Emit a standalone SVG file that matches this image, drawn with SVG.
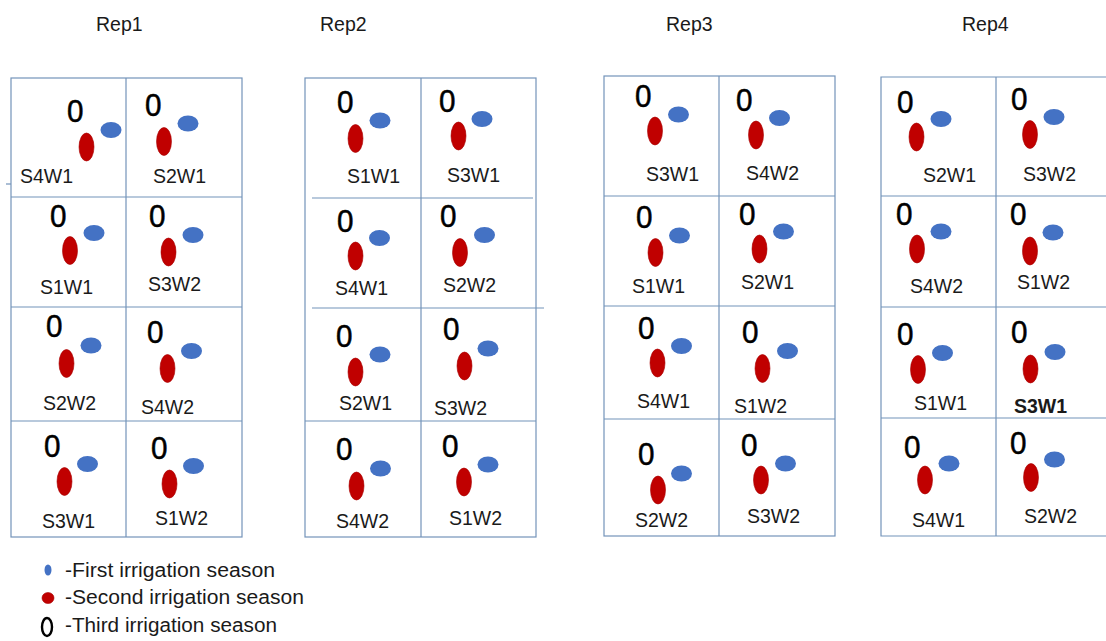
<svg xmlns="http://www.w3.org/2000/svg" width="1106" height="641" viewBox="0 0 1106 641">
<style>
.grid{stroke:#7393b9;stroke-width:1.2;fill:none}
.t{font-family:"Liberation Sans",Arial,sans-serif;font-size:19.5px;fill:#1a1a1a}
.z{font-family:"Liberation Sans",Arial,sans-serif;font-size:32px;fill:#000;stroke:#000;stroke-width:0.5}
.b{fill:#4472c4}
.r{fill:#c00000;stroke:#a80000;stroke-width:0.6}
.lg{font-family:"Liberation Sans",Arial,sans-serif;font-size:20px;fill:#1a1a1a}
</style>
<rect width="1106" height="641" fill="#fff"/>
<g id="titles">
<text class="t" x="96" y="31">Rep1</text>
<text class="t" x="320" y="31">Rep2</text>
<text class="t" x="666" y="31">Rep3</text>
<text class="t" x="962" y="31">Rep4</text>
</g>
<g id="connectors">
<g id="grid-rep1" class="grid">
<rect x="11" y="78" width="231" height="459"/>
<line x1="126" y1="78" x2="126" y2="537"/>
<line x1="11" y1="197" x2="242" y2="197"/>
<line x1="11" y1="307" x2="242" y2="307"/>
<line x1="11" y1="421" x2="242" y2="421"/>
<line x1="6" y1="184" x2="11" y2="184"/>
</g>
<g id="grid-rep2" class="grid">
<rect x="305" y="78" width="231" height="459"/>
<line x1="421" y1="78" x2="421" y2="537"/>
<line x1="312" y1="198" x2="533" y2="198"/>
<line x1="312" y1="308" x2="544" y2="308"/>
<line x1="305" y1="421" x2="536" y2="421"/>
</g>
<g id="grid-rep3" class="grid">
<rect x="604" y="76" width="231" height="460"/>
<line x1="719" y1="76" x2="719" y2="536"/>
<line x1="604" y1="196" x2="835" y2="196"/>
<line x1="604" y1="306" x2="835" y2="306"/>
<line x1="604" y1="419" x2="835" y2="419"/>
</g>
<g id="grid-rep4" class="grid">
<polyline points="1110,77 881,77 881,536 1110,536"/>
<line x1="996" y1="77" x2="996" y2="536"/>
<line x1="881" y1="196" x2="1110" y2="196"/>
<line x1="881" y1="307" x2="1110" y2="307"/>
<line x1="881" y1="418" x2="1110" y2="418"/>
</g>
</g>

<!-- Rep1 -->
<g id="r1-s4w1"><text class="z" x="67" y="122" textLength="16.5" lengthAdjust="spacingAndGlyphs">0</text><ellipse class="r" cx="86.5" cy="147" rx="7.5" ry="14"/><ellipse class="b" cx="111" cy="130" rx="10.5" ry="8"/><text class="t" x="20" y="183">S4W1</text></g>
<g id="r1-s2w1"><text class="z" x="145" y="116" textLength="16.5" lengthAdjust="spacingAndGlyphs">0</text><ellipse class="r" cx="164" cy="141.5" rx="7.5" ry="14"/><ellipse class="b" cx="188" cy="123.5" rx="10.5" ry="8"/><text class="t" x="153" y="183">S2W1</text></g>
<g id="r1-s1w1"><text class="z" x="50" y="227" textLength="16.5" lengthAdjust="spacingAndGlyphs">0</text><ellipse class="r" cx="70" cy="250.5" rx="7.5" ry="14"/><ellipse class="b" cx="94" cy="233" rx="10.5" ry="8"/><text class="t" x="40" y="294">S1W1</text></g>
<g id="r1-s3w2"><text class="z" x="149" y="227" textLength="16.5" lengthAdjust="spacingAndGlyphs">0</text><ellipse class="r" cx="168.5" cy="252" rx="7.5" ry="14"/><ellipse class="b" cx="193" cy="235" rx="10.5" ry="8"/><text class="t" x="148" y="291">S3W2</text></g>
<g id="r1-s2w2"><text class="z" x="46" y="337" textLength="16.5" lengthAdjust="spacingAndGlyphs">0</text><ellipse class="r" cx="66.5" cy="363.5" rx="7.5" ry="14"/><ellipse class="b" cx="91" cy="345.5" rx="10.5" ry="8"/><text class="t" x="43" y="410">S2W2</text></g>
<g id="r1-s4w2"><text class="z" x="147" y="343" textLength="16.5" lengthAdjust="spacingAndGlyphs">0</text><ellipse class="r" cx="167.5" cy="368.5" rx="7.5" ry="14"/><ellipse class="b" cx="191.5" cy="351" rx="10.5" ry="8"/><text class="t" x="141" y="414">S4W2</text></g>
<g id="r1-s3w1"><text class="z" x="44" y="457" textLength="16.5" lengthAdjust="spacingAndGlyphs">0</text><ellipse class="r" cx="64.5" cy="481.5" rx="7.5" ry="14"/><ellipse class="b" cx="87.5" cy="464" rx="10.5" ry="8"/><text class="t" x="42" y="528">S3W1</text></g>
<g id="r1-s1w2"><text class="z" x="151" y="459" textLength="16.5" lengthAdjust="spacingAndGlyphs">0</text><ellipse class="r" cx="169.5" cy="484" rx="7.5" ry="14"/><ellipse class="b" cx="193.5" cy="466" rx="10.5" ry="8"/><text class="t" x="155" y="525">S1W2</text></g>

<!-- Rep2 -->
<g id="r2-s1w1"><text class="z" x="337" y="113" textLength="16.5" lengthAdjust="spacingAndGlyphs">0</text><ellipse class="r" cx="355.5" cy="138.5" rx="7.5" ry="14"/><ellipse class="b" cx="380" cy="120.5" rx="10.5" ry="8"/><text class="t" x="347" y="183">S1W1</text></g>
<g id="r2-s3w1"><text class="z" x="439" y="112" textLength="16.5" lengthAdjust="spacingAndGlyphs">0</text><ellipse class="r" cx="458.5" cy="136" rx="7.5" ry="14"/><ellipse class="b" cx="482" cy="119" rx="10.5" ry="8"/><text class="t" x="447" y="182">S3W1</text></g>
<g id="r2-s4w1"><text class="z" x="337" y="232" textLength="16.5" lengthAdjust="spacingAndGlyphs">0</text><ellipse class="r" cx="355.5" cy="256" rx="7.5" ry="14"/><ellipse class="b" cx="379.5" cy="238" rx="10.5" ry="8"/><text class="t" x="335" y="295">S4W1</text></g>
<g id="r2-s2w2"><text class="z" x="440" y="227" textLength="16.5" lengthAdjust="spacingAndGlyphs">0</text><ellipse class="r" cx="460" cy="252.5" rx="7.5" ry="14"/><ellipse class="b" cx="484.5" cy="235" rx="10.5" ry="8"/><text class="t" x="443" y="292">S2W2</text></g>
<g id="r2-s2w1"><text class="z" x="336" y="347" textLength="16.5" lengthAdjust="spacingAndGlyphs">0</text><ellipse class="r" cx="355.5" cy="372" rx="7.5" ry="14"/><ellipse class="b" cx="380" cy="354.5" rx="10.5" ry="8"/><text class="t" x="339" y="410">S2W1</text></g>
<g id="r2-s3w2"><text class="z" x="443" y="340" textLength="16.5" lengthAdjust="spacingAndGlyphs">0</text><ellipse class="r" cx="464.5" cy="366" rx="7.5" ry="14"/><ellipse class="b" cx="488" cy="348.5" rx="10.5" ry="8"/><text class="t" x="434" y="415">S3W2</text></g>
<g id="r2-s4w2"><text class="z" x="336" y="460" textLength="16.5" lengthAdjust="spacingAndGlyphs">0</text><ellipse class="r" cx="356.5" cy="486" rx="7.5" ry="14"/><ellipse class="b" cx="380.5" cy="468.5" rx="10.5" ry="8"/><text class="t" x="336" y="528">S4W2</text></g>
<g id="r2-s1w2"><text class="z" x="442" y="457" textLength="16.5" lengthAdjust="spacingAndGlyphs">0</text><ellipse class="r" cx="464" cy="482" rx="7.5" ry="14"/><ellipse class="b" cx="488" cy="464.5" rx="10.5" ry="8"/><text class="t" x="449" y="525">S1W2</text></g>

<!-- Rep3 -->
<g id="r3-s3w1"><text class="z" x="635" y="107" textLength="16.5" lengthAdjust="spacingAndGlyphs">0</text><ellipse class="r" cx="655" cy="131" rx="7.5" ry="14"/><ellipse class="b" cx="678.5" cy="114.5" rx="10.5" ry="8"/><text class="t" x="646" y="181">S3W1</text></g>
<g id="r3-s4w2"><text class="z" x="736" y="111" textLength="16.5" lengthAdjust="spacingAndGlyphs">0</text><ellipse class="r" cx="756" cy="135" rx="7.5" ry="14"/><ellipse class="b" cx="779.5" cy="118" rx="10.5" ry="8"/><text class="t" x="746" y="180">S4W2</text></g>
<g id="r3-s1w1"><text class="z" x="636" y="228" textLength="16.5" lengthAdjust="spacingAndGlyphs">0</text><ellipse class="r" cx="655.5" cy="252.5" rx="7.5" ry="14"/><ellipse class="b" cx="679.5" cy="235.5" rx="10.5" ry="8"/><text class="t" x="632" y="293">S1W1</text></g>
<g id="r3-s2w1"><text class="z" x="739" y="225" textLength="16.5" lengthAdjust="spacingAndGlyphs">0</text><ellipse class="r" cx="759.5" cy="249" rx="7.5" ry="14"/><ellipse class="b" cx="783.5" cy="231.5" rx="10.5" ry="8"/><text class="t" x="741" y="289">S2W1</text></g>
<g id="r3-s4w1"><text class="z" x="638" y="339" textLength="16.5" lengthAdjust="spacingAndGlyphs">0</text><ellipse class="r" cx="657.5" cy="363" rx="7.5" ry="14"/><ellipse class="b" cx="681.5" cy="346" rx="10.5" ry="8"/><text class="t" x="637" y="408">S4W1</text></g>
<g id="r3-s1w2"><text class="z" x="742" y="343" textLength="16.5" lengthAdjust="spacingAndGlyphs">0</text><ellipse class="r" cx="762.5" cy="368.5" rx="7.5" ry="14"/><ellipse class="b" cx="787.5" cy="351" rx="10.5" ry="8"/><text class="t" x="734" y="413">S1W2</text></g>
<g id="r3-s2w2"><text class="z" x="638" y="465" textLength="16.5" lengthAdjust="spacingAndGlyphs">0</text><ellipse class="r" cx="658" cy="490" rx="7.5" ry="14"/><ellipse class="b" cx="681.5" cy="473.5" rx="10.5" ry="8"/><text class="t" x="635" y="527">S2W2</text></g>
<g id="r3-s3w2"><text class="z" x="741" y="456" textLength="16.5" lengthAdjust="spacingAndGlyphs">0</text><ellipse class="r" cx="761" cy="480" rx="7.5" ry="14"/><ellipse class="b" cx="785.5" cy="463.5" rx="10.5" ry="8"/><text class="t" x="747" y="523">S3W2</text></g>

<!-- Rep4 -->
<g id="r4-s2w1"><text class="z" x="897" y="113" textLength="16.5" lengthAdjust="spacingAndGlyphs">0</text><ellipse class="r" cx="916.5" cy="137" rx="7.5" ry="14"/><ellipse class="b" cx="941" cy="119" rx="10.5" ry="8"/><text class="t" x="923" y="182">S2W1</text></g>
<g id="r4-s3w2"><text class="z" x="1011" y="110" textLength="16.5" lengthAdjust="spacingAndGlyphs">0</text><ellipse class="r" cx="1030" cy="134.5" rx="7.5" ry="14"/><ellipse class="b" cx="1054" cy="117" rx="10.5" ry="8"/><text class="t" x="1023" y="181">S3W2</text></g>
<g id="r4-s4w2"><text class="z" x="896" y="225" textLength="16.5" lengthAdjust="spacingAndGlyphs">0</text><ellipse class="r" cx="917" cy="249" rx="7.5" ry="14"/><ellipse class="b" cx="941" cy="231.5" rx="10.5" ry="8"/><text class="t" x="910" y="293">S4W2</text></g>
<g id="r4-s1w2"><text class="z" x="1010" y="225" textLength="16.5" lengthAdjust="spacingAndGlyphs">0</text><ellipse class="r" cx="1030" cy="251" rx="7.5" ry="14"/><ellipse class="b" cx="1053" cy="232.5" rx="10.5" ry="8"/><text class="t" x="1017" y="289">S1W2</text></g>
<g id="r4-s1w1"><text class="z" x="897" y="345" textLength="16.5" lengthAdjust="spacingAndGlyphs">0</text><ellipse class="r" cx="918" cy="369.5" rx="7.5" ry="14"/><ellipse class="b" cx="942.5" cy="353" rx="10.5" ry="8"/><text class="t" x="914" y="410">S1W1</text></g>
<g id="r4-s3w1"><text class="z" x="1011" y="343" textLength="16.5" lengthAdjust="spacingAndGlyphs">0</text><ellipse class="r" cx="1030.5" cy="369" rx="7.5" ry="14"/><ellipse class="b" cx="1055" cy="352" rx="10.5" ry="8"/><text class="t" x="1014" y="413" font-weight="bold" font-size="18.5">S3W1</text></g>
<g id="r4-s4w1"><text class="z" x="904" y="458" textLength="16.5" lengthAdjust="spacingAndGlyphs">0</text><ellipse class="r" cx="925" cy="480" rx="7.5" ry="14"/><ellipse class="b" cx="949" cy="463.5" rx="10.5" ry="8"/><text class="t" x="912" y="527">S4W1</text></g>
<g id="r4-s2w2"><text class="z" x="1010" y="454" textLength="16.5" lengthAdjust="spacingAndGlyphs">0</text><ellipse class="r" cx="1031" cy="477.5" rx="7.5" ry="14"/><ellipse class="b" cx="1054.5" cy="459.5" rx="10.5" ry="8"/><text class="t" x="1024" y="523">S2W2</text></g>

<!-- Legend -->
<g id="legend">
<ellipse class="b" cx="48" cy="570" rx="3.5" ry="5.5"/>
<text class="lg" x="65" y="577" textLength="210" lengthAdjust="spacingAndGlyphs">-First irrigation season</text>
<ellipse class="r" cx="48" cy="598" rx="6" ry="5.5"/>
<text class="lg" x="65" y="604" textLength="239" lengthAdjust="spacingAndGlyphs">-Second irrigation season</text>
<ellipse cx="47" cy="627" rx="5" ry="9" fill="none" stroke="#000" stroke-width="2.4"/>
<text class="lg" x="65" y="632" textLength="212" lengthAdjust="spacingAndGlyphs">-Third irrigation season</text>
</g>
</svg>
